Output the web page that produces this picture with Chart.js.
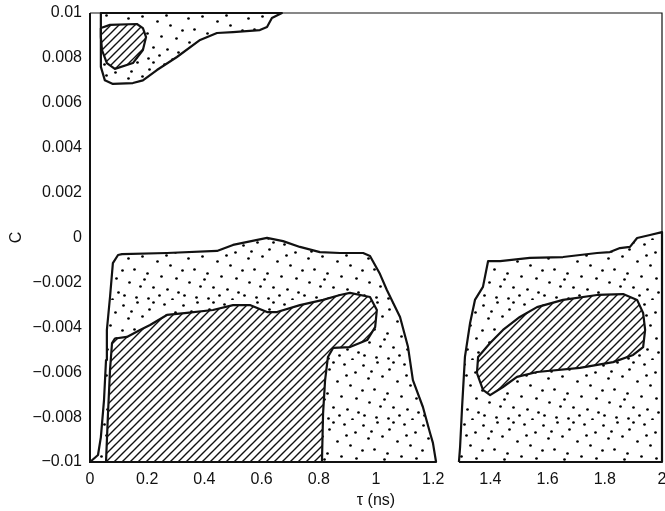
<!DOCTYPE html>
<html>
<head>
<meta charset="utf-8">
<style>
  html, body { margin: 0; padding: 0; background: #fff; overflow: hidden; }
  #wrap { width: 665px; height: 511px; position: relative; }
</style>
<script src="https://cdn.jsdelivr.net/npm/chart.js@4/dist/chart.umd.min.js"></script>
</head>
<body>
<div id="wrap"><canvas id="c"></canvas></div>
<script>
// Axis ticks
const xTickValues = [0, 0.2, 0.4, 0.6, 0.8, 1, 1.2, 1.4, 1.6, 1.8, 2];
const xTickLabels = ['0', '0.2', '0.4', '0.6', '0.8', '1', '1.2', '1.4', '1.6', '1.8', '2'];
const yTickValues = [-0.01, -0.008, -0.006, -0.004, -0.002, 0, 0.002, 0.004, 0.006, 0.008, 0.01];
const yTickLabels = ['\u22120.01', '\u22120.008', '\u22120.006', '\u22120.004', '\u22120.002', '0',
                     '0.002', '0.004', '0.006', '0.008', '0.01'];

// Region outlines: tau (ns) and C along each boundary
const upperDotTau = [0.038, 0.038, 0.038, 0.052, 0.080, 0.150, 0.185, 0.234, 0.304, 0.385, 0.444, 0.500, 0.594, 0.619, 0.636, 0.671];
const upperDotC   = [0.0100, 0.0088, 0.0076, 0.0070, 0.00684, 0.00688, 0.0070, 0.00746, 0.00804, 0.0088, 0.00911, 0.00915, 0.00924, 0.00938, 0.00978, 0.0100];

const upperHatchTau = [0.038, 0.070, 0.164, 0.185, 0.196, 0.185, 0.150, 0.087, 0.059, 0.042, 0.038];
const upperHatchC   = [0.00933, 0.00947, 0.00951, 0.00933, 0.00893, 0.00835, 0.00777, 0.00751, 0.00777, 0.00835, 0.00893];

const midDotTau = [0.000, 0.028, 0.038, 0.049, 0.056, 0.059, 0.070, 0.080, 0.098, 0.112, 0.269, 0.444, 0.500, 0.619, 0.675, 0.734,
                   0.804, 0.874, 0.955, 0.979, 1.014, 1.038, 1.084, 1.112, 1.129, 1.164, 1.189, 1.199, 1.210];
const midDotC   = [-0.0100, -0.00969, -0.00889, -0.00724, -0.00546, -0.00412, -0.00265, -0.00114, -0.00078, -0.00074, -0.00069,
                   -0.00060, -0.00033, -0.00002, -0.00016, -0.00042, -0.00065, -0.00069, -0.00069, -0.00082, -0.00163, -0.00234,
                   -0.00354, -0.00488, -0.00635, -0.00755, -0.00871, -0.00915, -0.0100];

const midHatchTau = [0.056, 0.063, 0.070, 0.077, 0.087, 0.129, 0.175, 0.210, 0.269, 0.339, 0.430, 0.500, 0.559, 0.619, 0.654, 0.734,
                     0.815, 0.874, 0.909, 0.979, 1.003, 0.997, 0.969, 0.909, 0.850, 0.832, 0.822, 0.815, 0.811];
const midHatchC   = [-0.0100, -0.00782, -0.00590, -0.00470, -0.00450, -0.00443, -0.00412, -0.00390, -0.00345, -0.00336, -0.00323,
                     -0.00301, -0.00301, -0.00332, -0.00332, -0.00301, -0.00278, -0.00256, -0.00247, -0.00265, -0.00323, -0.00399,
                     -0.00457, -0.00488, -0.00492, -0.00532, -0.00635, -0.00782, -0.0100];

const rightDotTau = [1.290, 1.294, 1.301, 1.311, 1.329, 1.346, 1.374, 1.392, 1.434, 1.538, 1.654, 1.773, 1.818, 1.853, 1.888, 1.913, 1.958, 2.000, 2.000];
const rightDotC   = [-0.0100, -0.00933, -0.00755, -0.00532, -0.00381, -0.00278, -0.00220, -0.00105, -0.00105, -0.00091, -0.00087,
                     -0.00069, -0.00065, -0.00047, -0.00042, -0.00002, 0.00011, 0.00024, -0.0100];

const rightHatchTau = [1.353, 1.374, 1.399, 1.444, 1.493, 1.563, 1.713, 1.829, 1.899, 1.934, 1.941, 1.934, 1.913, 1.864, 1.773, 1.654,
                       1.563, 1.503, 1.444, 1.399, 1.357];
const rightHatchC   = [-0.00604, -0.00679, -0.00702, -0.00666, -0.00621, -0.00599, -0.00581, -0.00555, -0.00523, -0.00488, -0.00412,
                       -0.00336, -0.00278, -0.00252, -0.00256, -0.00278, -0.00310, -0.00354, -0.00412, -0.00470, -0.00532];

// Stipple and hatch textures
const grainDots = [[3,5],[17,2],[29,9],[44,4],[55,12],[8,18],[22,16],[37,21],[50,25],[2,30],[14,29],[27,33],[41,36],[56,38],
                   [9,42],[20,46],[33,47],[47,49],[58,52],[4,55],[16,57],[28,58],[39,55],[52,59],[33,2],[46,15],[24,39],[11,11]];

function makeDotPattern(ctx) {
  const t = document.createElement('canvas');
  t.width = 60; t.height = 60;
  const g = t.getContext('2d');
  g.fillStyle = '#fff';
  g.fillRect(0, 0, 60, 60);
  g.fillStyle = '#000';
  grainDots.forEach(([x, y]) => { g.beginPath(); g.arc(x + 0.5, y + 0.5, 1.35, 0, Math.PI * 2); g.fill(); });
  return ctx.createPattern(t, 'repeat');
}

function makeHatchPattern(ctx) {
  const s = 8;
  const t = document.createElement('canvas');
  t.width = s; t.height = s;
  const g = t.getContext('2d');
  g.fillStyle = '#fff';
  g.fillRect(0, 0, s, s);
  g.strokeStyle = '#111';
  g.lineWidth = 1.4;
  g.beginPath();
  g.moveTo(-1, s + 1); g.lineTo(s + 1, -1);
  g.moveTo(-1, 1); g.lineTo(1, -1);
  g.moveTo(s - 1, s + 1); g.lineTo(s + 1, s - 1);
  g.stroke();
  return ctx.createPattern(t, 'repeat');
}

function outline(tau, c) {
  const pts = tau.map((t, k) => ({ x: t, y: c[k] }));
  pts.push({ x: tau[0], y: c[0] });
  return pts;
}

const canvas = document.getElementById('c');
const ctx0 = canvas.getContext('2d');
const dotPattern = makeDotPattern(ctx0);
const hatchPattern = makeHatchPattern(ctx0);

function region(tau, c, texture) {
  return {
    data: outline(tau, c),
    texture: texture,
    showLine: true,
    pointRadius: 0,
    borderColor: '#111',
    borderWidth: 2.2,
    borderJoinStyle: 'round',
    fill: false,
    clip: 6
  };
}

// Fill each outline with its texture before the outlines are stroked; draw the frame
const regionFill = {
  id: 'regionFill',
  beforeDatasetsDraw(chart) {
    const ctx = chart.ctx;
    chart.data.datasets.forEach((ds, i) => {
      const pts = chart.getDatasetMeta(i).data;
      ctx.save();
      ctx.beginPath();
      pts.forEach((p, k) => (k ? ctx.lineTo(p.x, p.y) : ctx.moveTo(p.x, p.y)));
      ctx.closePath();
      ctx.fillStyle = ds.texture === 'hatch' ? hatchPattern : dotPattern;
      ctx.fill();
      ctx.restore();
    });
  },
  afterDatasetsDraw(chart) {
    const { left, right, top, bottom } = chart.chartArea;
    const ctx = chart.ctx;
    ctx.save();
    ctx.strokeStyle = '#111';
    ctx.lineWidth = 2;
    ctx.beginPath();
    ctx.moveTo(left, top); ctx.lineTo(left, bottom + 1);
    ctx.stroke();
    ctx.lineWidth = 1.2;
    ctx.beginPath();
    ctx.moveTo(left, top); ctx.lineTo(right, top); ctx.lineTo(right, bottom);
    ctx.stroke();
    ctx.restore();
  }
};

const font = { family: '"Liberation Sans", Arial, sans-serif', size: 16 };

new Chart(canvas, {
  type: 'scatter',
  data: {
    datasets: [
      region(upperDotTau, upperDotC, 'dots'),
      region(midDotTau, midDotC, 'dots'),
      region(rightDotTau, rightDotC, 'dots'),
      region(upperHatchTau, upperHatchC, 'hatch'),
      region(midHatchTau, midHatchC, 'hatch'),
      region(rightHatchTau, rightHatchC, 'hatch')
    ]
  },
  options: {
    responsive: true,
    maintainAspectRatio: false,
    animation: false,
    events: [],
    layout: { padding: { top: 13, right: 3, left: 0, bottom: 0 } },
    plugins: { legend: { display: false }, tooltip: { enabled: false } },
    scales: {
      x: {
        type: 'linear',
        min: 0, max: 2,
        grid: { display: false, drawTicks: false },
        border: { display: false },
        afterBuildTicks(s) { s.ticks = xTickValues.map(v => ({ value: v })); },
        afterFit(s) { s.height = 49; s.paddingLeft = 0; s.paddingRight = 0; },
        ticks: {
          padding: 8,
          color: '#111',
          font: font,
          maxRotation: 0,
          autoSkip: false,
          callback: (v, i) => xTickLabels[i]
        },
        title: { display: true, text: '\u03c4 (ns)', color: '#111', font: font, padding: { top: 0, bottom: 1 } }
      },
      y: {
        type: 'linear',
        min: -0.01, max: 0.01,
        grid: { display: false, drawTicks: false },
        border: { display: false },
        afterBuildTicks(s) { s.ticks = yTickValues.map(v => ({ value: v })); },
        afterFit(s) { s.width = 90; s.paddingTop = 0; s.paddingBottom = 0; },
        ticks: {
          padding: 8,
          color: '#111',
          font: font,
          autoSkip: false,
          callback: (v, i) => yTickLabels[i]
        },
        title: { display: true, text: 'C', color: '#111', font: font, padding: { top: 7, bottom: 0 } }
      }
    }
  },
  plugins: [regionFill]
});
</script>
</body>
</html>
